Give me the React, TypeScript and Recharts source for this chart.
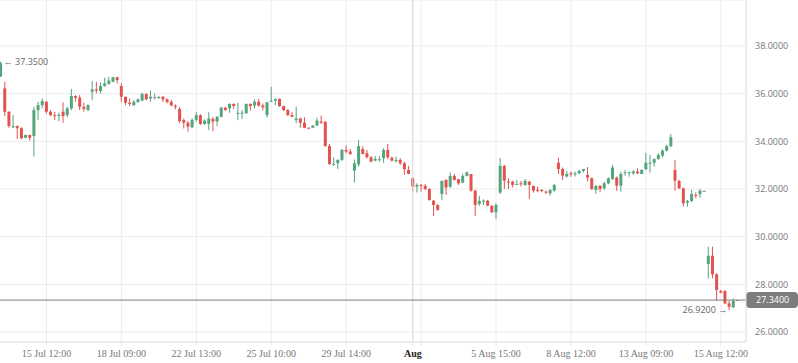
import { ComposedChart, Bar, XAxis, YAxis, CartesianGrid, ReferenceLine, ReferenceDot } from 'recharts';

// candle values (one entry per bar, left to right)
const opens = [
  36.72, 36.22, 35.24, 34.59, 34.64, 34.55, 34.15, 34.27, 34.22, 35.31,
  35.52, 35.66, 35.24, 35.10, 35.10, 35.24, 35.10, 35.38, 35.90, 35.83,
  35.45, 35.31, 36.08, 36.18, 36.11, 36.32, 36.40, 36.50, 36.69, 36.32,
  35.87, 35.62, 35.52, 35.65, 35.71, 35.99, 35.80, 35.85, 35.84, 35.87,
  35.76, 35.66, 35.50, 35.36, 34.89, 34.78, 34.59, 34.90, 35.10, 34.73,
  34.73, 34.94, 34.83, 35.03, 35.41, 35.38, 35.57, 35.18, 35.18, 35.18,
  35.57, 35.50, 35.66, 35.50, 35.10, 35.69, 35.71, 35.78, 35.48, 35.31,
  35.10, 34.89, 34.96, 34.78, 34.57, 34.57, 34.66, 34.83, 34.83, 33.80,
  33.01, 33.08, 33.22, 33.64, 33.57, 32.77, 33.03, 33.68, 33.50, 33.33,
  33.19, 33.23, 33.29, 33.64, 33.31, 33.17, 33.22, 33.08, 32.80, 32.45,
  32.10, 32.17, 32.13, 32.00, 31.51, 31.33, 31.79, 32.38, 32.10, 32.55,
  32.41, 32.27, 32.55, 32.63, 31.93, 31.37, 31.50, 31.51, 31.29, 31.02,
  31.85, 32.97, 32.31, 32.31, 32.20, 32.24, 32.17, 32.31, 32.13, 31.96,
  31.96, 31.89, 31.82, 31.93, 33.10, 32.84, 32.52, 32.66, 32.62, 32.66,
  32.76, 32.59, 32.45, 31.96, 32.13, 32.03, 32.24, 32.42, 32.48, 32.14,
  32.66, 32.66, 32.66, 32.73, 32.63, 32.83, 33.08, 33.10, 33.26, 33.40,
  33.61, 33.80, 32.80, 32.34, 32.03, 31.43, 31.50, 31.75, 31.78, 31.92,
  28.85, 29.20, 28.42, 27.72, 27.72, 27.20, 27.03, 27.34,
];
const highs = [
  37.35, 36.50, 35.26, 35.10, 34.66, 34.59, 34.27, 34.28, 35.45, 35.66,
  35.80, 35.69, 35.31, 35.24, 35.20, 35.63, 35.45, 36.20, 35.94, 35.94,
  35.62, 35.55, 36.53, 36.50, 36.46, 36.67, 36.71, 36.71, 36.71, 36.43,
  35.87, 35.80, 35.73, 35.80, 36.04, 36.01, 36.13, 36.01, 35.90, 35.90,
  35.80, 35.73, 35.55, 35.45, 34.96, 34.85, 34.96, 35.24, 35.13, 34.92,
  35.22, 35.03, 35.06, 35.45, 35.45, 35.59, 35.59, 35.62, 35.31, 35.59,
  35.59, 35.76, 35.78, 35.59, 35.66, 36.29, 35.80, 35.80, 35.50, 35.36,
  35.22, 35.45, 34.99, 35.01, 34.58, 34.69, 34.99, 35.08, 34.83, 33.89,
  33.33, 33.25, 33.68, 33.82, 33.68, 33.24, 34.06, 33.80, 33.64, 33.38,
  33.38, 33.39, 33.71, 33.89, 33.36, 33.36, 33.29, 33.15, 32.97, 32.49,
  32.24, 32.21, 32.21, 32.03, 31.54, 31.36, 32.35, 32.41, 32.70, 32.63,
  32.42, 32.63, 32.73, 32.63, 31.96, 31.71, 31.57, 31.54, 31.33, 31.40,
  33.31, 33.01, 32.45, 32.35, 32.38, 32.34, 32.42, 32.34, 32.14, 32.10,
  32.00, 31.93, 31.99, 32.21, 33.31, 32.90, 32.76, 32.73, 32.73, 32.80,
  32.84, 32.92, 32.48, 32.17, 32.17, 32.31, 32.49, 33.01, 32.52, 32.73,
  32.80, 32.73, 32.80, 32.87, 32.83, 33.52, 33.43, 33.29, 33.50, 33.66,
  33.85, 34.31, 33.22, 32.38, 32.06, 31.54, 31.96, 31.85, 32.00, 31.93,
  29.58, 29.58, 28.46, 27.76, 27.76, 27.31, 27.41, 27.35,
];
const lows = [
  36.70, 35.06, 34.57, 34.55, 34.10, 34.08, 34.13, 34.03, 33.36, 34.90,
  35.38, 35.17, 35.06, 34.90, 34.85, 34.78, 35.00, 35.31, 35.66, 35.31,
  35.24, 35.27, 35.73, 36.01, 36.01, 36.29, 36.39, 36.48, 36.43, 35.66,
  35.52, 35.48, 35.48, 35.62, 35.68, 35.73, 35.66, 35.76, 35.78, 35.65,
  35.59, 35.48, 35.34, 34.76, 34.54, 34.41, 34.55, 34.82, 34.69, 34.69,
  34.48, 34.43, 34.64, 35.01, 35.29, 35.20, 35.36, 34.89, 34.94, 35.15,
  35.29, 35.38, 35.45, 35.29, 34.99, 35.66, 35.52, 35.45, 35.27, 35.06,
  35.01, 34.76, 34.57, 34.55, 34.52, 34.57, 34.64, 34.73, 33.78, 33.01,
  32.98, 32.84, 33.17, 33.50, 33.43, 32.27, 32.94, 33.45, 33.29, 33.12,
  33.16, 33.15, 33.10, 33.25, 33.15, 33.10, 33.01, 32.59, 32.62, 31.89,
  31.85, 31.89, 31.96, 31.51, 30.87, 31.09, 31.54, 31.75, 32.03, 32.35,
  32.17, 32.24, 32.52, 31.89, 30.87, 31.29, 31.33, 31.29, 31.01, 30.73,
  31.79, 32.00, 32.00, 32.06, 32.17, 32.10, 32.13, 31.58, 31.85, 31.86,
  31.86, 31.79, 31.72, 31.89, 32.63, 32.38, 32.49, 32.52, 32.52, 32.63,
  32.69, 32.31, 31.96, 31.79, 31.86, 31.96, 32.20, 32.38, 31.92, 31.89,
  32.56, 32.52, 32.59, 32.62, 32.62, 32.80, 32.69, 32.94, 33.22, 33.33,
  33.57, 33.75, 31.93, 32.00, 31.26, 31.26, 31.44, 31.61, 31.64, 31.91,
  28.25, 28.25, 27.31, 27.62, 27.17, 26.92, 27.02, 27.33,
];
const closes = [
  37.28, 35.24, 34.64, 34.64, 34.55, 34.13, 34.27, 34.15, 35.31, 35.52,
  35.69, 35.24, 35.10, 35.08, 35.11, 35.06, 35.38, 35.90, 35.83, 35.45,
  35.36, 35.52, 36.18, 36.13, 36.32, 36.43, 36.55, 36.69, 36.57, 35.87,
  35.62, 35.57, 35.66, 35.76, 35.99, 35.76, 35.87, 35.85, 35.86, 35.76,
  35.65, 35.50, 35.45, 34.85, 34.78, 34.62, 34.90, 35.10, 34.73, 34.87,
  34.96, 34.83, 35.03, 35.41, 35.31, 35.57, 35.48, 35.20, 35.20, 35.57,
  35.48, 35.66, 35.50, 35.43, 35.64, 35.70, 35.78, 35.48, 35.31, 35.10,
  35.03, 34.96, 34.78, 34.57, 34.53, 34.66, 34.87, 34.78, 33.80, 33.05,
  33.05, 33.22, 33.64, 33.57, 33.47, 33.08, 33.80, 33.47, 33.33, 33.15,
  33.26, 33.25, 33.64, 33.33, 33.19, 33.22, 33.08, 32.83, 32.63, 32.10,
  32.17, 32.13, 32.00, 31.54, 31.33, 31.12, 32.34, 32.06, 32.55, 32.38,
  32.24, 32.55, 32.70, 31.93, 31.33, 31.50, 31.51, 31.30, 31.02, 31.33,
  32.97, 32.35, 32.27, 32.17, 32.21, 32.20, 32.34, 32.17, 31.93, 31.92,
  31.92, 31.85, 31.96, 32.17, 32.84, 32.56, 32.63, 32.62, 32.66, 32.76,
  32.84, 32.48, 32.00, 32.13, 32.00, 32.24, 32.45, 32.90, 32.14, 32.63,
  32.70, 32.70, 32.73, 32.66, 32.80, 33.10, 33.10, 33.25, 33.43, 33.61,
  33.80, 34.17, 32.35, 32.03, 31.40, 31.50, 31.79, 31.71, 31.93, 31.92,
  29.20, 28.42, 27.76, 27.66, 27.20, 27.06, 27.30, 27.34,
];

// bar index of each labelled time on the x axis
const tickIndex = [11, 29, 47, 65, 83, 99, 101, 119, 137, 155, 173];
const tickLabels = [
  '15 Jul 12:00', '18 Jul 09:00', '22 Jul 13:00', '25 Jul 10:00', '29 Jul 14:00',
  'Aug', '', '5 Aug 15:00', '8 Aug 12:00', '13 Aug 09:00', '15 Aug 12:00',
];
const monthIndex = 99;
const yTicks = [26, 28, 30, 32, 34, 36, 38];
const lastPrice = 27.34;

const GREEN = '#53a57d';
const RED = '#e2524e';
const GRAY = '#8d8d8d';
const GRID = '#ececec';

const data = opens.map((open, i) => ({
  i,
  open,
  high: highs[i],
  low: lows[i],
  close: closes[i],
  range: [lows[i], highs[i]],
}));

let maxIdx = 0;
let minIdx = 0;
data.forEach((d, i) => {
  if (d.high > data[maxIdx].high) maxIdx = i;
  if (d.low < data[minIdx].low) minIdx = i;
});

const Candle = (props: any) => {
  const { x, y, width, height, payload } = props;
  const { open, close, high, low } = payload;
  const k = high > low ? height / (high - low) : 0;
  const py = (v: number) => y + (high - v) * k;
  const cx = x + width / 2;
  const color = close > open ? GREEN : close < open ? RED : GRAY;
  const top = py(Math.max(open, close));
  const bot = py(Math.min(open, close));
  return (
    <g>
      <line x1={cx} x2={cx} y1={y} y2={y + height} stroke={color} strokeWidth={1} />
      <rect x={cx - 1.5} y={top} width={3} height={Math.max(1, bot - top)} fill={color} />
    </g>
  );
};

const XTick = (props: any) => {
  const { x, y, payload } = props;
  const label = tickLabels[tickIndex.indexOf(payload.value)] || '';
  const isMonth = payload.value === monthIndex;
  return (
    <text
      x={x}
      y={y}
      dy="0.71em"
      textAnchor="middle"
      fontFamily="Liberation Serif, serif"
      fontSize={10}
      fontWeight={isMonth ? 'bold' : 'normal'}
      fill={isMonth ? '#222' : '#777'}
    >
      {label}
    </text>
  );
};

const PriceTag = (props: any) => {
  const vb = props.viewBox || {};
  const right = vb.x + vb.width;
  const cy = vb.y;
  return (
    <g>
      <rect x={right} y={cy - 8} width={52} height={16} rx={4} fill="#7d7d7d" />
      <text x={right + 10} y={cy} dy="0.35em" fontSize={9} fontFamily="Open Sans, sans-serif" fill="#fff">
        {lastPrice.toFixed(4)}
      </text>
    </g>
  );
};

export default function App() {
  return (
    <div style={{ position: 'absolute', left: 0, top: 0, width: 798, height: 363, background: '#fff' }}>
      <ComposedChart
        width={798}
        height={363}
        data={data}
        margin={{ top: 0, right: 0, bottom: 0, left: -1.4 }}
        barCategoryGap={0}
      >
        <CartesianGrid stroke={GRID} />
        <XAxis
          dataKey="i"
          type="category"
          ticks={tickIndex}
          interval={0}
          height={21}
          padding={{ left: 0, right: 6.4 }}
          tickSize={4}
          tickMargin={4}
          stroke={GRID}
          tickLine={{ stroke: GRID }}
          axisLine={{ stroke: '#e4e4e4' }}
          tick={<XTick />}
        />
        <YAxis
          orientation="right"
          width={52}
          domain={[25.58, 39.93]}
          ticks={yTicks}
          allowDataOverflow
          tickLine={false}
          tickSize={0}
          tickMargin={9}
          axisLine={{ stroke: '#e4e4e4' }}
          tickFormatter={(v: number) => v.toFixed(4)}
          tick={{ fontSize: 9, fill: '#777', fontFamily: 'Open Sans, sans-serif' }}
        />
        <ReferenceLine x={monthIndex} stroke="#dadada" />
        <Bar dataKey="range" barSize={4} shape={<Candle />} isAnimationActive={false} />
        <ReferenceLine y={lastPrice} stroke="#7a7a7a" label={<PriceTag />} />
        <ReferenceDot
          x={maxIdx}
          y={data[maxIdx].high}
          r={0}
          fill="none"
          stroke="none"
          label={{ value: '\u2190 ' + data[maxIdx].high.toFixed(4), position: 'right', offset: 3, fontSize: 9, fill: '#666', fontFamily: 'Open Sans, sans-serif' }}
        />
        <ReferenceDot
          x={minIdx}
          y={data[minIdx].low}
          r={0}
          fill="none"
          stroke="none"
          label={{ value: data[minIdx].low.toFixed(4) + ' \u2192', position: 'left', offset: 2, fontSize: 9, fill: '#666', fontFamily: 'Open Sans, sans-serif' }}
        />
      </ComposedChart>
    </div>
  );
}
